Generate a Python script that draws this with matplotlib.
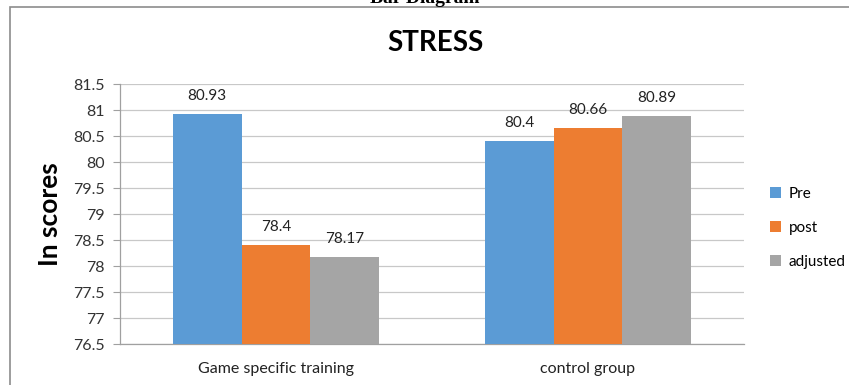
import matplotlib.pyplot as plt
import numpy as np
from matplotlib.patches import Rectangle

plt.rcParams["font.family"] = ["Lato", "DejaVu Sans"]

groups = ["Game specific training", "control group"]
series = ["Pre", "post", "adjusted"]
pre = [80.93, 80.4]
post = [78.4, 80.66]
adjusted = [78.17, 80.89]
colors = ["#5B9BD5", "#ED7D31", "#A5A5A5"]
yticks = [76.5, 77, 77.5, 78, 78.5, 79, 79.5, 80, 80.5, 81, 81.5]

W, H = 849, 385
fig = plt.figure(figsize=(W / 100, H / 100), dpi=100)
ax = fig.add_axes([120 / W, 1 - 344 / H, 624 / W, 260 / H])

x = np.arange(len(groups))
width = 0.221
for i, (name, vals) in enumerate(zip(series, [pre, post, adjusted])):
    pos = x + (i - 1) * width
    ax.bar(pos, np.array(vals) - 76.5, width, bottom=76.5, color=colors[i],
           label=name, zorder=3)
    for px, v in zip(pos, vals):
        ax.annotate(f"{v:g}", (px, v), xytext=(0, 8), textcoords="offset points",
                    ha="center", va="bottom", fontsize=11, color="#222222")

ax.set_xlim(-0.5, 1.5)
ax.set_ylim(76.5, 81.5)
ax.set_yticks(yticks)
ax.set_yticklabels([f"{t:g}" for t in yticks], fontsize=11.5, color="#333333")
ax.set_xticks(x)
ax.set_xticklabels(groups, fontsize=11.5, color="#222222")
ax.tick_params(axis="x", length=0, pad=13)
ax.tick_params(axis="y", length=5, color="#a0a0a0", pad=6)
ax.grid(axis="y", color="#c8c8c8", linewidth=0.9, zorder=0)
for s in ["top", "right"]:
    ax.spines[s].set_visible(False)
for s in ["left", "bottom"]:
    ax.spines[s].set_color("#a0a0a0")
    ax.spines[s].set_linewidth(0.9)

ax.set_ylabel("In scores", fontsize=19, fontweight="bold", labelpad=8)

ax.legend(loc="center left", bbox_to_anchor=(1.02, 0.446), frameon=False,
          fontsize=11, handlelength=0.7, handleheight=0.7, handletextpad=0.5,
          labelspacing=1.3)

fig.text(435 / W, 1 - 43 / H, "STRESS", ha="center", va="center",
         fontsize=20, fontweight="bold")

# outer chart frame, running off the right and bottom edges
fig.patches.append(Rectangle((10 / W, -0.1), 1.0, 1 - 7 / H + 0.1,
                             transform=fig.transFigure, fill=False,
                             edgecolor="#8c8c8c", linewidth=1.2))

# document heading above the frame
fig.text(425 / W, 1 - 3 / H, "Bar Diagram", ha="center", va="baseline",
         fontsize=14, fontweight="bold", family="Liberation Serif")

fig.savefig("out.png", dpi=100)
